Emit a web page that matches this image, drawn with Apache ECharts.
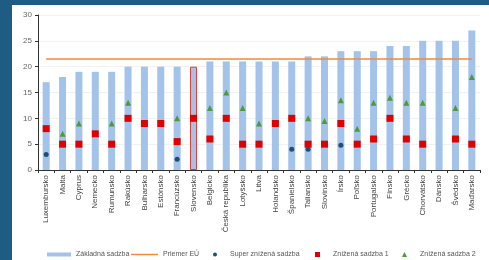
<!DOCTYPE html>
<html>
<head>
<meta charset="utf-8">
<script src="https://cdn.jsdelivr.net/npm/echarts@6/dist/echarts.min.js"></script>
<style>
  html, body { margin: 0; padding: 0; background: #1f5c84; }
  #frame { position: absolute; left: 12px; top: 5px; width: 477px; height: 255px; background: #fff; }
  #chart { position: absolute; left: 0; top: 0; width: 489px; height: 260px; }
</style>
</head>
<body>
<div id="frame"></div>
<div id="chart"></div>
<script>
var countries = ['Luxembursko', 'Malta', 'Cyprus', 'Nemecko', 'Rumunsko', 'Rakúsko', 'Bulharsko', 'Estónsko', 'Francúzsko', 'Slovensko',
  'Belgicko', 'Česká republika', 'Lotyšsko', 'Litva', 'Holandsko', 'Španielsko', 'Taliansko', 'Slovinsko', 'Írsko', 'Poľsko',
  'Portugalsko', 'Fínsko', 'Grécko', 'Chorvátsko', 'Dánsko', 'Švédsko', 'Maďarsko'];
var baseRate = [17, 18, 19, 19, 19, 20, 20, 20, 20, 20, 21, 21, 21, 21, 21, 21, 22, 22, 23, 23, 23, 24, 24, 25, 25, 25, 27];
var euAverage = 21.5;
var superReduced = [3, null, null, null, null, null, null, null, 2.1, null, null, null, null, null, null, 4, 4, null, 4.8, null, null, null, null, null, null, null, null];
var reduced1 = [8, 5, 5, 7, 5, 10, 9, 9, 5.5, 10, 6, 10, 5, 5, 9, 10, 5, 5, 9, 5, 6, 10, 6, 5, null, 6, 5];
var reduced2 = [null, 7, 9, null, 9, 13, null, null, 10, null, 12, 15, 12, 9, null, null, 10, 9.5, 13.5, 8, 13, 14, 13, 13, null, 12, 18];
var highlight = 'Slovensko';

var chart = echarts.init(document.getElementById('chart'), null, { renderer: 'canvas' });
var font = 'Liberation Sans';
var legendText = { fontSize: 7, color: '#555', fontFamily: font };

var barData = baseRate.map(function(v, i) {
  if (countries[i] === highlight) {
    return { value: v, itemStyle: { borderColor: '#e0403a', borderWidth: 1 } };
  }
  return v;
});

function legendItem(name, left, icon, w, h, pad) {
  return {
    left: left, top: 246,
    itemWidth: w, itemHeight: h,
    textStyle: Object.assign({ padding: [0, 0, 0, pad] }, legendText),
    data: [{ name: name, icon: icon }]
  };
}

chart.setOption({
  animation: false,
  textStyle: { fontFamily: font },
  grid: { left: 38, right: 9, top: 15, bottom: 90 },
  legend: [
    legendItem('Základná sadzba', 42, 'rect', 24, 4, 0),
    legendItem('Priemer EÚ', 126, 'rect', 27, 1.5, 0),
    legendItem('Super znížená sadzba', 208, 'circle', 4, 4, 8),
    legendItem('Znížená sadzba 1', 310, 'rect', 5, 5, 8),
    legendItem('Znížená sadzba 2', 397, 'triangle', 5, 5, 8)
  ],
  xAxis: {
    type: 'category',
    data: countries,
    axisLine: { lineStyle: { color: '#333' } },
    axisTick: { show: true, length: 3, lineStyle: { color: '#333' } },
    axisLabel: { rotate: 90, interval: 0, fontSize: 8, color: '#444', margin: 5 }
  },
  yAxis: {
    type: 'value',
    min: 0, max: 30, interval: 5,
    axisLine: { show: true, lineStyle: { color: '#333' } },
    axisTick: { show: true, length: 3, lineStyle: { color: '#333' } },
    axisLabel: { fontSize: 8, color: '#666', margin: 6 },
    splitLine: { show: true, lineStyle: { color: '#f2f2f2' } }
  },
  series: [{
    name: 'Základná sadzba',
    type: 'bar',
    barWidth: 7,
    itemStyle: { color: '#a3c3ea' },
    data: barData
  }, {
    name: 'Priemer EÚ',
    type: 'line',
    showSymbol: false,
    symbol: 'none',
    lineStyle: { color: '#f08a3c', width: 1.5 },
    itemStyle: { color: '#f08a3c' },
    data: countries.map(function() { return euAverage; })
  }, {
    name: 'Super znížená sadzba',
    type: 'scatter',
    symbol: 'circle',
    symbolSize: 5,
    itemStyle: { color: '#1f4e79', opacity: 1 },
    data: superReduced
  }, {
    name: 'Znížená sadzba 1',
    type: 'scatter',
    symbol: 'rect',
    symbolSize: 7,
    itemStyle: { color: '#e00000', opacity: 1 },
    data: reduced1
  }, {
    name: 'Znížená sadzba 2',
    type: 'scatter',
    symbol: 'triangle',
    symbolSize: 6,
    itemStyle: { color: '#4e9a3a', opacity: 1 },
    data: reduced2
  }]
});
window.addEventListener('resize', function() { chart.resize(); });
</script>
</body>
</html>
